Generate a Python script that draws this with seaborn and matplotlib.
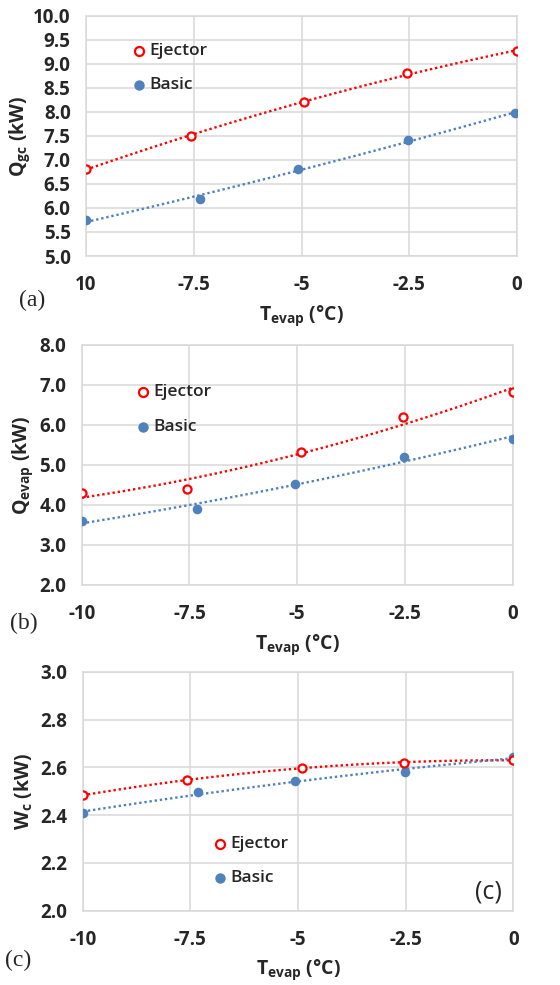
import numpy as np
import pandas as pd
import matplotlib
matplotlib.use("Agg")
import matplotlib.pyplot as plt
import seaborn as sns

# ---------------- data ----------------
x_ticks = [-10, -7.5, -5, -2.5, 0]
x_labels_a = ["10", "-7.5", "-5", "-2.5", "0"]
x_labels = ["-10", "-7.5", "-5", "-2.5", "0"]

# (a) Q_gc
a_ej_x = [-10.0, -7.57, -4.94, -2.56, 0.0]
a_ej_y = [6.81, 7.50, 8.20, 8.81, 9.27]
a_ba_x = [-10.0, -7.35, -5.07, -2.54, -0.04]
a_ba_y = [5.74, 6.19, 6.81, 7.42, 7.97]

# (b) Q_evap
b_ej_x = [-10.0, -7.55, -4.92, -2.54, 0.0]
b_ej_y = [4.30, 4.40, 5.32, 6.20, 6.83]
b_ba_x = [-10.0, -7.33, -5.06, -2.52, 0.0]
b_ba_y = [3.60, 3.90, 4.52, 5.20, 5.66]

# (c) W_c
c_ej_x = [-10.0, -7.57, -4.90, -2.54, 0.0]
c_ej_y = [2.483, 2.547, 2.598, 2.620, 2.630]
c_ba_x = [-10.0, -7.33, -5.07, -2.51, 0.0]
c_ba_y = [2.409, 2.498, 2.541, 2.579, 2.645]

RED = "#FF0000"
BLUE = "#4F81BD"
GRID = "#D9D9D9"

sns.set_style("whitegrid")
plt.rcParams["font.family"] = ["Open Sans", "DejaVu Sans"]
plt.rcParams["mathtext.fontset"] = "custom"
plt.rcParams["mathtext.rm"] = "Open Sans"
plt.rcParams["mathtext.bf"] = "Open Sans:bold"
plt.rcParams["mathtext.it"] = "Open Sans:bold"

fig = plt.figure(figsize=(5.6, 9.85), dpi=100)

panels = [
    dict(pos=[0.1536, 0.7401, 0.7696, 0.2437], ej=(a_ej_x, a_ej_y), ba=(a_ba_x, a_ba_y),
         ylim=(5.0, 10.0), yticks=np.arange(5.0, 10.01, 0.5), xl=x_labels_a,
         ylabel=r"$\mathbf{Q_{gc}}$ $\mathbf{(kW)}$", leg=(0.123, 0.854, 0.7125, 0.148),
         tag="(a)", tagxy=(19, 300), ylx=-0.125),
    dict(pos=[0.1459, 0.4061, 0.7696, 0.2437], ej=(b_ej_x, b_ej_y), ba=(b_ba_x, b_ba_y),
         ylim=(2.0, 8.0), yticks=np.arange(2.0, 8.01, 1.0), xl=x_labels,
         ylabel=r"$\mathbf{Q_{evap}}$ $\mathbf{(kW)}$", leg=(0.142, 0.803, 0.66, 0.166),
         tag="(b)", tagxy=(10, 623), ylx=-0.108),
    dict(pos=[0.1477, 0.0754, 0.7690, 0.2426], ej=(c_ej_x, c_ej_y), ba=(c_ba_x, c_ba_y),
         ylim=(2.0, 3.0), yticks=np.arange(2.0, 3.001, 0.2), xl=x_labels,
         ylabel=r"$\mathbf{W_{c}}$ $\mathbf{(kW)}$", leg=(0.319, 0.278, 0.1356, 0.342),
         tag="(c)", tagxy=(5, 960), ylx=-0.11),
]

for p in panels:
    ax = fig.add_axes(p["pos"])
    ex, ey = p["ej"]
    bx, by = p["ba"]
    # trendlines
    sns.regplot(x=np.array(ex), y=np.array(ey), order=2, ci=None, scatter=False, ax=ax,
                line_kws=dict(color=RED, lw=1.7, linestyle=(0, (1, 1.2))))
    sns.regplot(x=np.array(bx), y=np.array(by), order=2, ci=None, scatter=False, ax=ax,
                line_kws=dict(color=BLUE, lw=1.7, linestyle=(0, (1, 1.2))))
    # markers
    sns.scatterplot(x=bx, y=by, ax=ax, color=BLUE, s=48, edgecolor=BLUE, linewidth=0, zorder=5)
    sns.scatterplot(x=ex, y=ey, ax=ax, facecolor="white", edgecolor=RED, s=34, linewidth=1.6,
                    zorder=6)
    ax.set_xlim(-10, 0)
    ax.set_ylim(*p["ylim"])
    ax.set_xticks(x_ticks)
    ax.set_xticklabels(p["xl"])
    ax.set_yticks(p["yticks"])
    ax.set_yticklabels([f"{v:.1f}" for v in p["yticks"]])
    ax.grid(True, color=GRID, lw=1.1)
    for s in ax.spines.values():
        s.set_color(GRID)
        s.set_linewidth(1.1)
    ax.tick_params(axis="both", length=0, labelsize=13.5, pad=11)
    ax.tick_params(axis="x", pad=14)
    for lab in ax.get_xticklabels() + ax.get_yticklabels():
        lab.set_fontweight("bold")
    ax.set_xlabel(r"$\mathbf{T_{evap}}$ $\mathbf{(°C)}$", fontsize=14)
    ax.set_ylabel(p["ylabel"], fontsize=14)
    ax.xaxis.set_label_coords(0.5, -0.195)
    ax.yaxis.set_label_coords(p["ylx"], 0.5)
    ax.set_axisbelow(True)
    # in-axes legend
    mx, y1, y2, tx = p["leg"]
    ax.plot([mx], [y1], marker="o", ms=6.5, mfc="white", mec=RED, mew=1.6,
            transform=ax.transAxes, clip_on=False, zorder=7)
    ax.plot([mx], [y2], marker="o", ms=7.5, mfc=BLUE, mec=BLUE, mew=0,
            transform=ax.transAxes, clip_on=False, zorder=7)
    ax.text(tx, y1, "Ejector", transform=ax.transAxes, fontsize=12.5, va="center", ha="left",
            fontweight="semibold")
    ax.text(tx, y2, "Basic", transform=ax.transAxes, fontsize=12.5, va="center", ha="left",
            fontweight="semibold")
    fig.text(p["tagxy"][0] / 560, 1 - p["tagxy"][1] / 985, p["tag"], fontsize=17,
             family=["Liberation Serif"], va="center", ha="left")
    if p["tag"] == "(c)":
        ax.text(0.941, 0.079, "(c)", transform=ax.transAxes, fontsize=18, ha="center",
                va="center")

fig.savefig("out.png", dpi=100)
